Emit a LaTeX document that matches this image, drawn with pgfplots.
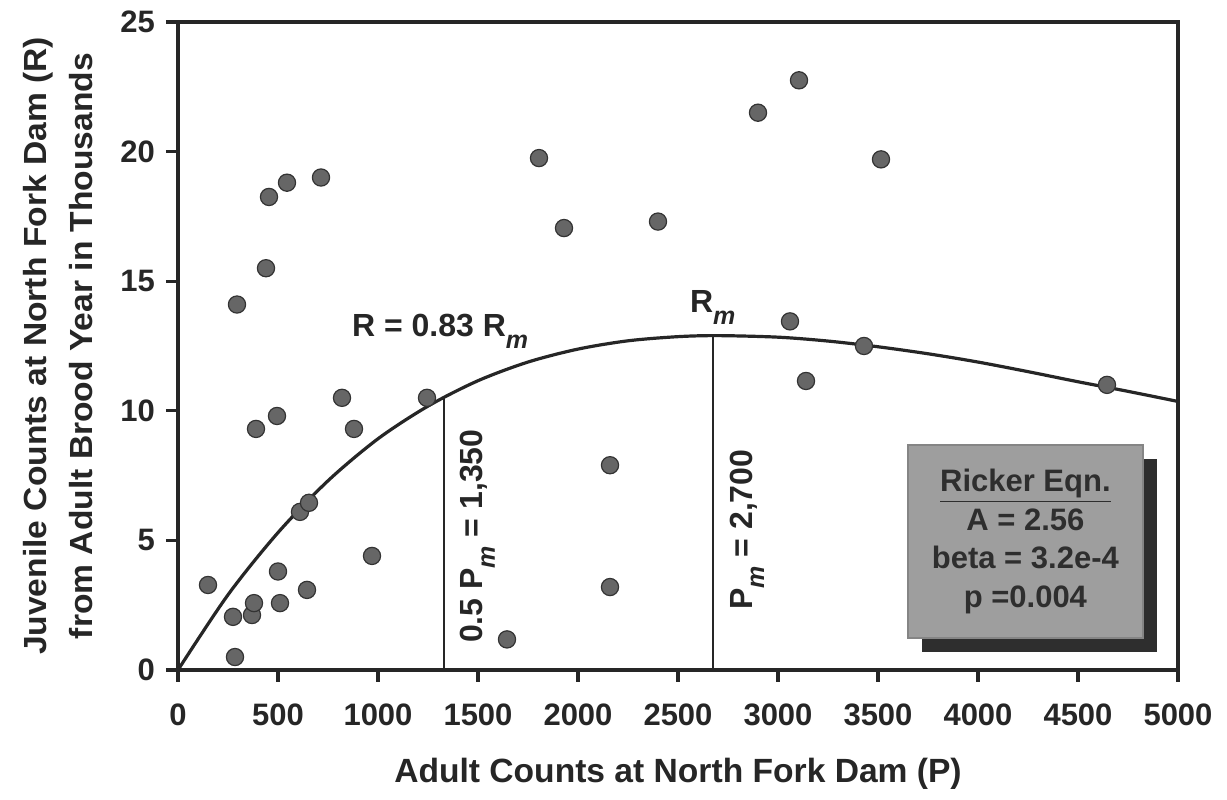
\documentclass[border=0pt]{standalone}
\usepackage{pgfplots}
\pgfplotsset{compat=1.18}
\usepackage{fontspec}
\setmainfont{Liberation Sans}
\newfontfamily\lblfont[FakeStretch=1.05]{Liberation Sans}
\usetikzlibrary{shadows}

\pgfplotstableread{
x y
150 3.28
285 0.50
275 2.05
295 14.1
370 2.12
380 2.58
390 9.3
440 15.5
455 18.25
495 9.8
500 3.8
510 2.58
545 18.8
610 6.1
655 6.45
645 3.09
715 19.0
820 10.5
880 9.3
970 4.4
1245 10.5
1645 1.18
1805 19.75
1930 17.05
2160 7.9
2160 3.2
2400 17.3
2900 21.5
3105 22.75
3060 13.45
3140 11.15
3430 12.5
3515 19.7
4645 11.0
}\obs

\pgfplotstableread{
x y
0 0
250 2.90
500 5.30
750 7.30
1000 8.92
1250 10.18
1500 11.16
1750 11.88
2000 12.38
2250 12.70
2500 12.86
2700 12.90
3000 12.84
3250 12.69
3500 12.47
3750 12.20
4000 11.88
4250 11.51
4500 11.12
4750 10.75
5000 10.36
}\curve

\newcommand{\sub}{\raisebox{-6pt}{\fontsize{12.5}{13}\selectfont\itshape m}}

\begin{document}
\begin{tikzpicture}
\begin{axis}[
  name=ax,
  width=500pt, height=324pt, scale only axis,
  xmin=0, xmax=5000, ymin=0, ymax=25,
  xtick={0,500,...,5000}, ytick={0,5,...,25},
  tick align=outside, major tick length=6pt,
  xtick pos=left, ytick pos=left,
  axis line style={line width=1.6pt, black!85},
  every tick/.style={line width=1.6pt, black!85},
  /pgf/number format/assume math mode=true,
  /pgf/number format/1000 sep={},
  ticklabel style={font=\fontsize{15.5}{18}\selectfont\bfseries, text=black!85},
  xticklabel style={yshift=-7.5pt},
  yticklabel style={xshift=-2pt},
  xlabel={Adult Counts at North Fork Dam (P)},
  ylabel={Juvenile Counts at North Fork Dam (R)\\from Adult Brood Year in Thousands},
  xlabel style={font=\fontsize{16.8}{20}\selectfont\bfseries, text=black!85, yshift=-9pt},
  ylabel style={font=\lblfont\fontsize{16}{23}\selectfont\bfseries, text=black!85, align=center},
  ylabel shift=7pt,
  clip=false,
]
\addplot[only marks, mark=*, mark size=4.3pt,
  mark options={fill=black!60, draw=black!80, line width=0.6pt}] table {\obs};
\addplot[line width=1.6pt, black!85, smooth] table {\curve};
\addplot[line width=1.3pt, black!85] coordinates {(1330,0) (1330,10.45)};
\addplot[line width=1.3pt, black!85] coordinates {(2675,0) (2675,12.9)};

\node[anchor=base west, font=\fontsize{16}{18}\selectfont\bfseries, text=black!85]
  at (axis cs:835,12.85) {R = 0.83 R\sub};
\node[anchor=base west, font=\fontsize{16}{18}\selectfont\bfseries, text=black!85]
  at (axis cs:2525,13.8) {R\sub};
\node[anchor=base west, rotate=90, font=\fontsize{16}{18}\selectfont\bfseries, text=black!85]
  at (axis cs:1525,0.77) {0.5 P\sub{} = 1,350};
\node[anchor=base west, rotate=90, font=\fontsize{16}{18}\selectfont\bfseries, text=black!85]
  at (axis cs:2870,2.05) {P\sub{} = 2,700};

\node[fill=black!38, draw=black!48, line width=0.8pt,
  drop shadow={shadow xshift=7pt, shadow yshift=-7pt, fill=black!82, opacity=1},
  minimum width=117.5pt, minimum height=96.5pt, inner sep=2pt,
  align=center, font=\fontsize{15.5}{19.3}\selectfont\bfseries, text=black!82]
  at (axis cs:4237,4.95) {\underline{Ricker Eqn.}\\A = 2.56\\beta = 3.2e-4\\p =0.004};
\end{axis}
\pgfresetboundingbox
\path ([shift={(-89pt,-65pt)}]ax.south west) rectangle ([shift={(24.5pt,11pt)}]ax.north east);
\end{tikzpicture}
\end{document}
